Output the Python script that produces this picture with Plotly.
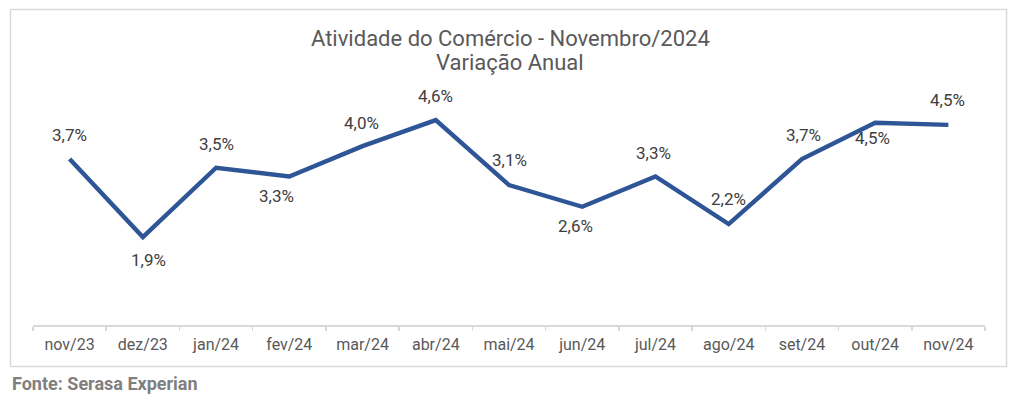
import plotly.graph_objects as go

# ---- data ----
months = ["nov/23", "dez/23", "jan/24", "fev/24", "mar/24", "abr/24", "mai/24",
          "jun/24", "jul/24", "ago/24", "set/24", "out/24", "nov/24"]
variacao = [3.7, 1.9, 3.5, 3.3, 4.0, 4.6, 3.1, 2.6, 3.3, 2.2, 3.7, 4.54, 4.49]
rotulos = ["3,7%", "1,9%", "3,5%", "3,3%", "4,0%", "4,6%", "3,1%",
           "2,6%", "3,3%", "2,2%", "3,7%", "4,5%", "4,5%"]
titulo = "Atividade do Comércio - Novembro/2024"
subtitulo = "Variação Anual"
fonte = "Fonte: Serasa Experian"

# ---- label offsets (style, pixels) ----
label_dx = [0, 6, 0, -13, -1, 0, 0, -7, -2, 0, 2, -3, -1]
label_dy = [24, -23, 24, -20, 23, 24, 25, -19, 23, 25, 24, -15, 25]

W, H = 1017, 397
fig = go.Figure()
fig.add_trace(go.Scatter(
    x=months, y=variacao, mode="lines",
    line=dict(color="#2E5596", width=4.4),
    hoverinfo="skip", showlegend=False,
))

for m, v, t, dx, dy in zip(months, variacao, rotulos, label_dx, label_dy):
    fig.add_annotation(x=m, y=v, text=t, showarrow=False,
                       xshift=dx, yshift=dy,
                       font=dict(family="Roboto", size=17, color="#404040"))

fig.add_annotation(xref="paper", yref="paper", x=510.5 / W, y=1 - 38.5 / H,
                   text=titulo, showarrow=False, xanchor="center", yanchor="middle",
                   font=dict(family="Roboto", size=22, color="#595959"))
fig.add_annotation(xref="paper", yref="paper", x=510.5 / W, y=1 - 63 / H,
                   text=subtitulo, showarrow=False, xanchor="center", yanchor="middle",
                   font=dict(family="Roboto", size=22, color="#595959"))
fig.add_annotation(xref="paper", yref="paper", x=10 / W, y=1 - 383.5 / H,
                   text="<b>" + fonte + "</b>", showarrow=False,
                   xanchor="left", yanchor="middle",
                   font=dict(family="Roboto", size=18, color="#7F7F7F"))

fig.add_shape(type="rect", xref="paper", yref="paper",
              x0=10.5 / W, x1=1006.5 / W, y0=1 - 366.5 / H, y1=1 - 9.5 / H,
              line=dict(color="#D9D9D9", width=1.5), fillcolor="rgba(0,0,0,0)",
              layer="below")

fig.update_layout(
    width=W, height=H,
    margin=dict(l=0, r=0, t=0, b=0),
    paper_bgcolor="white", plot_bgcolor="white",
    xaxis=dict(domain=[33 / W, 985 / W], type="category",
               range=[-0.5, 12.5],
               showline=True, linecolor="#D9D9D9", linewidth=1.5,
               ticks="outside", tickson="boundaries", ticklen=4,
               tickcolor="#D9D9D9", tickwidth=1.5,
               ticklabelstandoff=4,
               showgrid=False, zeroline=False,
               tickfont=dict(family="Roboto", size=16, color="#595959")),
    yaxis=dict(domain=[(H - 325) / H, (H - 102.8) / H],
               range=[-0.13, 5.0], visible=False, showgrid=False,
               zeroline=False),
)

fig.write_html("out.html",
               config={"displayModeBar": False, "staticPlot": True},
               post_script="document.body.style.margin='0';document.body.style.overflow='hidden';")
